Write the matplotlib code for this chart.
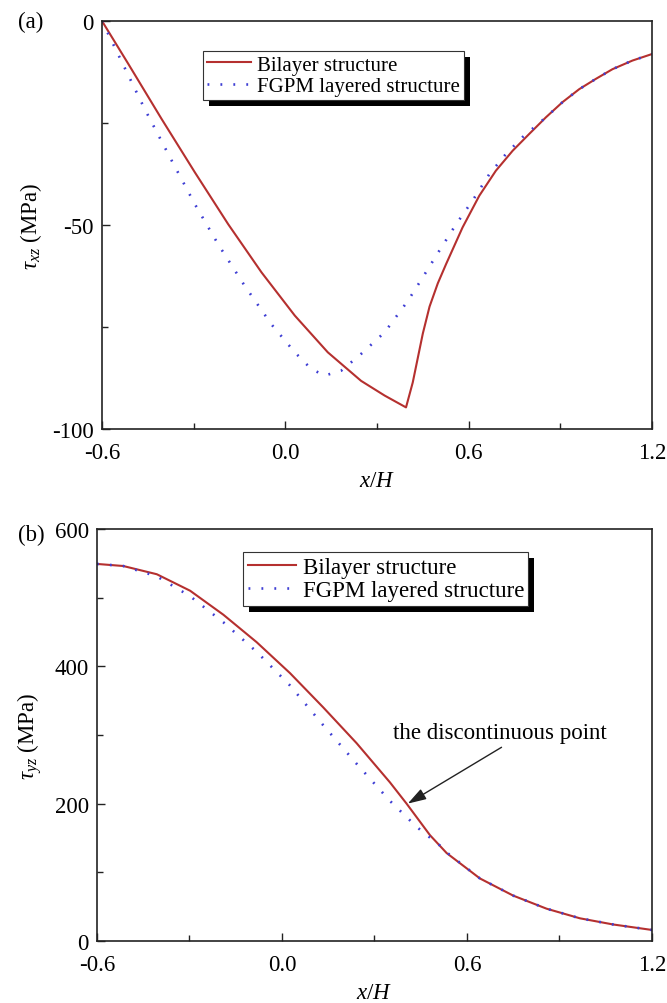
import matplotlib
matplotlib.use("Agg")
import matplotlib.pyplot as plt
from matplotlib.patches import Rectangle
from matplotlib.transforms import IdentityTransform
from matplotlib.ticker import MultipleLocator, FormatStrFormatter

# panel (a): tau_xz
a_bilayer_x = [-0.6, -0.514, -0.405, -0.296, -0.187, -0.078, 0.031, 0.139, 0.248, 0.325, 0.395,
               0.417, 0.428, 0.450, 0.472, 0.499, 0.526, 0.580, 0.635, 0.689, 0.744, 0.798,
               0.853, 0.907, 0.962, 1.016, 1.071, 1.136, 1.2]
a_bilayer_y = [0, -10.5, -24.0, -37.1, -49.8, -61.6, -72.2, -81.2, -88.2, -91.8, -94.7,
               -88.6, -84.6, -76.6, -70.0, -64.3, -59.6, -50.6, -42.8, -36.7, -31.8, -27.7,
               -23.6, -19.9, -16.7, -14.2, -11.8, -9.7, -8.1]
a_fgpm_x = [-0.6, -0.558, -0.460, -0.372, -0.296, -0.220, -0.133, -0.046, 0.031, 0.085, 0.129,
            0.183, 0.248, 0.325, 0.401, 0.450, 0.504, 0.559, 0.613, 0.668, 0.722, 0.776,
            0.853, 0.907, 0.962, 1.016, 1.071, 1.136, 1.2]
a_fgpm_y = [0, -6.5, -21.6, -34.2, -44.9, -54.7, -64.9, -74.3, -81.2, -85.3, -86.9,
            -85.7, -81.6, -76.3, -68.6, -62.8, -56.3, -49.8, -44.0, -37.5, -32.6, -28.5,
            -23.6, -19.9, -16.7, -14.2, -11.8, -9.7, -8.1]

# panel (b): tau_yz
b_bilayer_x = [-0.6, -0.515, -0.406, -0.298, -0.190, -0.082, 0.026, 0.134, 0.242, 0.350, 0.404,
               0.480, 0.534, 0.642, 0.750, 0.858, 0.966, 1.074, 1.2]
b_bilayer_y = [549, 546, 534, 510, 475, 435, 390, 340, 288, 231, 200,
               154, 128, 91, 66, 47, 33, 24, 16]
b_fgpm_x = [-0.6, -0.515, -0.406, -0.298, -0.190, -0.082, 0.026, 0.134, 0.242, 0.350, 0.437,
            0.512, 0.534, 0.642, 0.750, 0.858, 0.966, 1.074, 1.2]
b_fgpm_y = [549, 546, 531, 502, 464, 421, 372, 314, 258, 204, 166,
            139, 129, 91, 66, 47, 33, 24, 16]

x_ticks = [-0.6, 0.0, 0.6, 1.2]
labels = ["Bilayer structure", "FGPM layered structure"]

RED = "#B5302F"
BLUE = "#3F3FD4"
FS = 16.5

plt.rcParams["font.family"] = "Liberation Serif"
plt.rcParams["mathtext.fontset"] = "custom"
plt.rcParams["mathtext.rm"] = "Liberation Serif"
plt.rcParams["mathtext.it"] = "Liberation Serif:italic"
plt.rcParams["axes.unicode_minus"] = False

fig = plt.figure(figsize=(6.67, 10.04), dpi=100)
ax_a = fig.add_axes([0.1529, 0.5717, 0.8246, 0.4064])
ax_b = fig.add_axes([0.1454, 0.0618, 0.8321, 0.4104])


def style_axes(ax, ylim, ymajor, yminor, yfmt):
    ax.set_xlim(-0.6, 1.2)
    ax.set_ylim(*ylim)
    ax.set_xticks(x_ticks)
    ax.xaxis.set_minor_locator(MultipleLocator(0.3))
    ax.xaxis.set_major_formatter(FormatStrFormatter("%.1f"))
    ax.yaxis.set_major_locator(MultipleLocator(ymajor))
    ax.yaxis.set_minor_locator(MultipleLocator(yminor))
    ax.yaxis.set_major_formatter(FormatStrFormatter(yfmt))
    ax.tick_params(which="both", direction="in", top=False, right=False,
                   labelsize=FS, width=1.0, color="#222222")
    ax.tick_params(which="major", length=6)
    ax.tick_params(which="minor", length=4)
    ax.tick_params(axis="y", which="major", pad=6)
    ax.tick_params(axis="x", which="major", pad=9.5)
    for sp in ax.spines.values():
        sp.set_linewidth(1.2)
        sp.set_color("#222222")
    ax.set_xlabel("$x/H$", fontsize=FS)


def add_legend(ax, anchor, size):
    leg = ax.legend(labels, loc="upper left", bbox_to_anchor=anchor, borderaxespad=0,
                    fontsize=size, frameon=True, fancybox=False, framealpha=1,
                    edgecolor="#333333", borderpad=0.2, labelspacing=0.1,
                    handlelength=2.1, handletextpad=0.3)
    leg.get_frame().set_linewidth(0.8)
    return leg


# (a)
ax_a.plot(a_bilayer_x, a_bilayer_y, color=RED, lw=1.5)
ax_a.plot(a_fgpm_x, a_fgpm_y, color=BLUE, lw=1.9, linestyle=(0, (0.7, 4.2)))
style_axes(ax_a, (-100, 0), 50, 25, "%d")
ax_a.set_ylabel(r"$\tau_{xz}$ (MPa)", fontsize=FS)
ax_a.yaxis.set_label_coords(-0.106, 0.5)
ax_a.xaxis.set_label_coords(0.5, -0.1)
leg_a = add_legend(ax_a, (0.183, 0.927), 15)

# (b)
ax_b.plot(b_bilayer_x, b_bilayer_y, color=RED, lw=1.5)
ax_b.plot(b_fgpm_x, b_fgpm_y, color=BLUE, lw=1.9, linestyle=(0, (0.7, 4.2)))
style_axes(ax_b, (0, 600), 200, 100, "%d")
ax_b.set_ylabel(r"$\tau_{yz}$ (MPa)", fontsize=FS)
ax_b.yaxis.set_label_coords(-0.096, 0.5)
ax_b.xaxis.set_label_coords(0.5, -0.1)
leg_b = add_legend(ax_b, (0.263, 0.944), 16.5)

ax_b.text(0.707, 304, "the discontinuous point", fontsize=FS, ha="center", va="center")
ax_b.annotate("", xy=(0.408, 200), xytext=(0.712, 282),
              arrowprops=dict(arrowstyle="-|>,head_length=0.7,head_width=0.22",
                              color="#222222", lw=1.0, shrinkA=0, shrinkB=0,
                              mutation_scale=16))

fig.text(0.027, 0.978, "(a)", fontsize=FS, ha="left", va="center")
fig.text(0.027, 0.467, "(b)", fontsize=FS, ha="left", va="center")

# black drop shadow behind each legend
fig.canvas.draw()
for ax, leg in [(ax_a, leg_a), (ax_b, leg_b)]:
    bb = leg.get_window_extent()
    shadow = Rectangle((bb.x0 + 6, bb.y0 - 6), bb.width, bb.height,
                       transform=IdentityTransform(), facecolor="black",
                       edgecolor="none", zorder=leg.get_zorder() - 0.1)
    ax.add_artist(shadow)

fig.savefig("out.png", dpi=100)
